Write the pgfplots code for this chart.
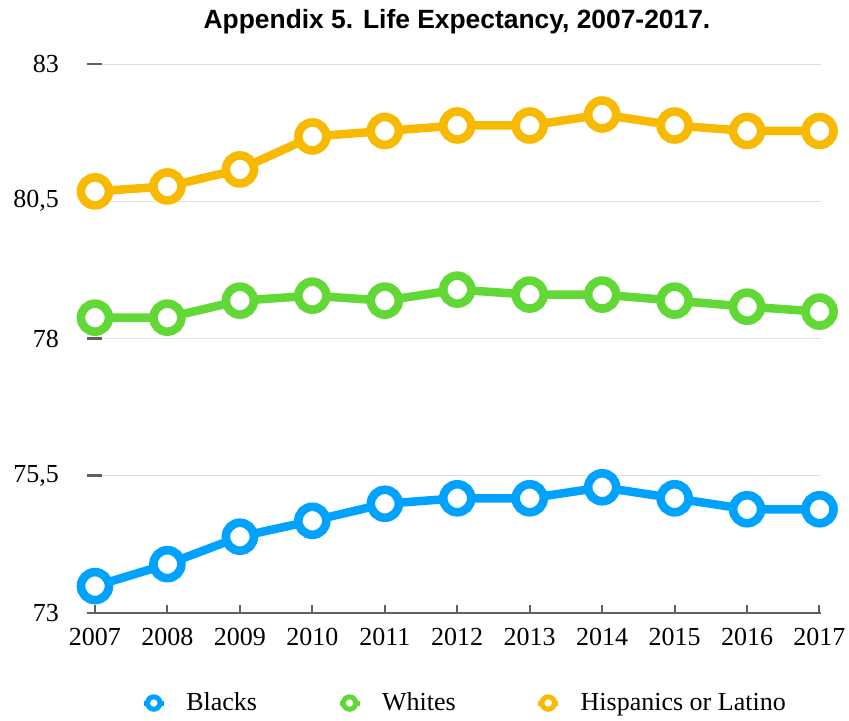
\documentclass[border=0pt]{standalone}
\usepackage{fontspec}
\setmainfont{Liberation Serif}
\newfontfamily\titlefont{Liberation Sans}
\usepackage{pgfplots}
\pgfplotsset{compat=1.18}

\definecolor{cblue}{HTML}{00A2FF}
\definecolor{cgreen}{HTML}{61D836}
\definecolor{corange}{HTML}{F8BA00}
\definecolor{caxis}{HTML}{5F5F5F}

\pgfplotsset{
    life line/.style={
            color=#1, line width=4.25pt, mark=*, mark size=7pt,
            mark options={draw=#1, fill=white, line width=4.3pt},
            legend image code/.code={
                    \draw[#1, line width=2.5pt] (0pt,0pt) -- (10pt,0pt);
                    \draw[#1, line width=2.5pt, fill=white] (5pt,0pt) circle (3.1pt);
                }},
}

\begin{document}
\begin{tikzpicture}
    \useasboundingbox (-43.5pt,-53.5pt) rectangle (381pt,306.5pt);
    \begin{axis}[
            scale only axis, width=367pt, height=274.5pt,
            xmin=2006.89, xmax=2017.02, ymin=73, ymax=83,
            axis x line*=bottom, axis y line*=left,
            x axis line style={-, draw=caxis, line width=1pt},
            y axis line style={draw=none},
            xtick={2007,...,2017},
            ytick={73,75.5,78,80.5,83},
            yticklabels={73,{75,5},78,{80,5},83},
            tick align=inside,
            major tick length=7.5pt,
            xtick style={draw=caxis, line width=1pt, /pgfplots/major tick length=4pt},
            ytick style={draw=caxis, line width=1.4pt},
            ymajorgrids, major grid style={draw=black!12, line width=0.5pt},
            /pgf/number format/assume math mode=true,
            tick label style={font=\fontsize{13}{15}\selectfont},
            xticklabel style={/pgf/number format/1000 sep=, yshift=-4pt},
            yticklabel style={anchor=east, xshift=-10.5pt},
            title={\titlefont\bfseries\fontsize{13.2}{15}\selectfont Appendix 5. Life Expectancy, 2007-2017.},
            title style={at={(axis description cs:0.5,1)}, anchor=center, yshift=15pt, xshift=1.5pt},
            legend columns=3,
            legend style={draw=none, fill=none, font=\fontsize{13}{15}\selectfont,
                    at={(axis description cs:0.5157,0)}, anchor=center, yshift=-45pt,
                    /tikz/every even column/.append style={column sep=38pt}},
            legend cell align=left,
        ]
        \addplot[life line=cblue] coordinates {
                (2007,73.49) (2008,73.89) (2009,74.39) (2010,74.68) (2011,74.99) (2012,75.09)
                (2013,75.09) (2014,75.29) (2015,75.09) (2016,74.89) (2017,74.89)};
        \addlegendentry{\hspace*{8pt}Blacks}
        \addplot[life line=cgreen] coordinates {
                (2007,78.38) (2008,78.38) (2009,78.69) (2010,78.78) (2011,78.69) (2012,78.89)
                (2013,78.80) (2014,78.80) (2015,78.69) (2016,78.58) (2017,78.49)};
        \addlegendentry{\hspace*{8pt}Whites}
        \addplot[life line=corange] coordinates {
                (2007,80.68) (2008,80.77) (2009,81.08) (2010,81.68) (2011,81.78) (2012,81.88)
                (2013,81.88) (2014,82.08) (2015,81.88) (2016,81.78) (2017,81.78)};
        \addlegendentry{\hspace*{8pt}Hispanics or Latino}
    \end{axis}
\end{tikzpicture}
\end{document}
